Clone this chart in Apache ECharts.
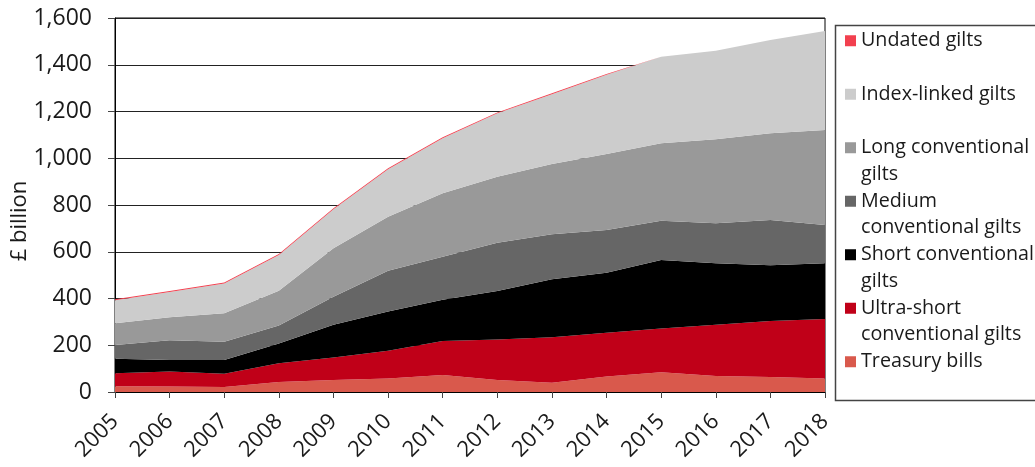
<!DOCTYPE html>
<html>
<head>
<meta charset="utf-8">
<script src="https://cdn.jsdelivr.net/npm/echarts@6/dist/echarts.min.js"></script>
<style>
  html, body { margin: 0; padding: 0; background: #fff; }
  #chart { width: 1035px; height: 467px; }
</style>
</head>
<body>
<div id="chart"></div>
<script>
// gilt portfolio by type, £ billion
const years = ['2005', '2006', '2007', '2008', '2009', '2010', '2011', '2012', '2013', '2014', '2015', '2016', '2017', '2018'];
const treasuryBills = [25, 23, 21, 43, 51, 58, 73, 51, 40, 66, 84, 68, 64, 58];
const ultraShort = [55, 65, 57, 80, 97, 119, 145, 174, 194, 188, 188, 220, 240, 254];
const shortConv = [62, 49, 59, 85, 140, 167, 177, 207, 248, 256, 293, 263, 238, 239];
const mediumConv = [59, 84, 78, 76, 120, 175, 184, 207, 193, 183, 168, 171, 194, 163];
const longConv = [93, 99, 122, 149, 207, 231, 271, 282, 300, 325, 331, 359, 371, 407];
const indexLinked = [99, 108, 127, 153, 167, 203, 236, 271, 299, 339, 370, 379, 399, 423];
const undated = [4, 4, 4, 4, 4, 4, 4, 4, 4, 3, 0, 0, 0, 0];
const yTicks = [0, 200, 400, 600, 800, 1000, 1200, 1400, 1600];

const font = '"Open Sans", "Noto Sans", sans-serif';
const textColor = '#1a1a1a';

// bottom to top
const layers = [
  { name: 'Treasury bills', label: 'Treasury bills', data: treasuryBills, color: '#d9594c' },
  { name: 'Ultra-short conventional gilts', label: 'Ultra-short\nconventional gilts', data: ultraShort, color: '#c00018' },
  { name: 'Short conventional gilts', label: 'Short conventional\ngilts', data: shortConv, color: '#000000' },
  { name: 'Medium conventional gilts', label: 'Medium\nconventional gilts', data: mediumConv, color: '#666666' },
  { name: 'Long conventional gilts', label: 'Long conventional\ngilts', data: longConv, color: '#999999' },
  { name: 'Index-linked gilts', label: 'Index-linked gilts', data: indexLinked, color: '#cccccc' },
  { name: 'Undated gilts', label: 'Undated gilts', data: undated, color: '#f2404f' }
];

// every legend text gets three lines so the swatch sits beside the first real line
let labelOf = {};
layers.forEach(l => {
  labelOf[l.name] = '\n' + l.label + (l.label.indexOf('\n') >= 0 ? '' : '\n ');
});

let series = layers.map(l => ({
  name: l.name,
  type: 'line',
  stack: 'total',
  data: l.data,
  symbol: 'none',
  smooth: false,
  color: l.color,
  lineStyle: { width: 0 },
  areaStyle: { color: l.color, opacity: 1 },
  emphasis: { disabled: true }
}));

let option = {
  animation: false,
  grid: {
    left: 115, right: 210, top: 18, bottom: 75,
    outerBoundsMode: 'none',
    show: true, borderColor: '#000', borderWidth: 1
  },
  legend: {
    orient: 'vertical',
    left: 845,
    top: 1,
    padding: 0,
    itemGap: -26,
    itemWidth: 11,
    itemHeight: 11,
    icon: 'rect',
    selectedMode: false,
    data: layers.slice().reverse().map(l => l.name),
    formatter: name => labelOf[name],
    textStyle: { fontFamily: font, fontSize: 19.7, lineHeight: 26.5, color: textColor }
  },
  xAxis: {
    type: 'category',
    data: years,
    boundaryGap: false,
    axisLine: { lineStyle: { color: '#000', width: 1 } },
    axisTick: { show: true, length: 6, interval: 0, lineStyle: { color: '#444' } },
    axisLabel: { interval: 0, rotate: 45, margin: 26, fontFamily: font, fontSize: 22, color: textColor },
    splitLine: { show: false }
  },
  yAxis: {
    type: 'value',
    min: yTicks[0],
    max: yTicks[yTicks.length - 1],
    interval: 200,
    name: '£ billion',
    nameLocation: 'middle',
    nameRotate: 90,
    nameGap: 84,
    nameMoveOverlap: false,
    nameTextStyle: { fontFamily: font, fontSize: 22, color: textColor, padding: [0, 32, 0, 0] },
    axisLine: { show: true, lineStyle: { color: '#000', width: 1 } },
    axisTick: { show: true, length: 7, lineStyle: { color: '#444' } },
    axisLabel: {
      margin: 23,
      fontFamily: font,
      fontSize: 23,
      color: textColor,
      formatter: v => v.toLocaleString('en-GB')
    },
    splitLine: { show: true, lineStyle: { color: '#222', width: 1 } }
  },
  graphic: [{
    type: 'rect',
    shape: { x: 835.5, y: 25.5, width: 210, height: 375 },
    style: { fill: 'none', stroke: '#444', lineWidth: 1.5 },
    silent: true
  }],
  series: series
};

let myChart = echarts.init(document.getElementById('chart'));
myChart.setOption(option);
window.onresize = myChart.resize;
</script>
</body>
</html>
